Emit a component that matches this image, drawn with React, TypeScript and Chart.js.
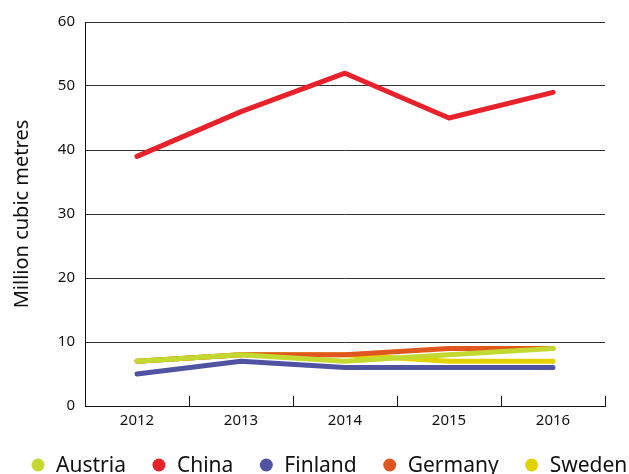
import React, { useEffect, useRef } from "react";
import { Chart, registerables } from "chart.js";
Chart.register(...registerables);

const years = ["2012", "2013", "2014", "2015", "2016"];
const austria = [7, 8, 7, 8, 9];
const china = [39, 46, 52, 45, 49];
const finland = [5, 7, 6, 6, 6];
const germany = [7, 8, 8, 9, 9];
const sweden = [7, 8, 8, 7, 7];
const yTicks = [0, 10, 20, 30, 40, 50, 60];

const FONT = "'Noto Sans', 'Open Sans', sans-serif";

const upTicks = {
  id: "upTicks",
  afterDatasetsDraw(chart: any) {
    const x = chart.scales.x;
    const ctx = chart.ctx;
    const n = x.ticks.length;
    ctx.save();
    ctx.strokeStyle = "#111";
    ctx.lineWidth = 1;
    for (let i = 1; i <= n; i++) {
      const px = Math.round(x.left + (i * (x.right - x.left)) / n) + 0.5;
      ctx.beginPath();
      ctx.moveTo(px, x.top);
      ctx.lineTo(px, x.top - 10);
      ctx.stroke();
    }
    ctx.restore();
  },
};

const bottomLegend = {
  id: "bottomLegend",
  afterDraw(chart: any) {
    const ctx = chart.ctx;
    ctx.save();
    ctx.font = `21px ${FONT}`;
    ctx.textBaseline = "middle";
    ctx.textAlign = "left";
    const cy = 465;
    let cx = 38;
    chart.data.datasets.forEach((ds: any) => {
      ctx.fillStyle = ds.borderColor;
      ctx.beginPath();
      ctx.arc(cx, cy, 6.5, 0, Math.PI * 2);
      ctx.fill();
      ctx.fillStyle = "#111";
      const tx = cx + 18;
      ctx.fillText(ds.label, tx, cy + 1);
      const w = ctx.measureText(ds.label).width;
      cx = tx + w + 33;
    });
    ctx.restore();
  },
};

export default function App() {
  const ref = useRef<HTMLCanvasElement>(null);
  useEffect(() => {
    const mk = (label: string, data: number[], color: string) => ({
      label,
      data,
      borderColor: color,
      backgroundColor: color,
      borderWidth: 5,
      pointRadius: 0,
      borderCapStyle: "round" as const,
      borderJoinStyle: "round" as const,
      tension: 0,
    });
    const chart = new Chart(ref.current!, {
      type: "line",
      data: {
        labels: years,
        datasets: [
          mk("Austria", austria, "#c4d92f"),
          mk("China", china, "#e8222b"),
          mk("Finland", finland, "#5053a2"),
          mk("Germany", germany, "#e0561f"),
          mk("Sweden", sweden, "#e2d200"),
        ],
      },
      options: {
        animation: false,
        responsive: false,
        devicePixelRatio: 1,
        layout: { padding: { left: 0, right: 24, top: 22, bottom: 40 } },
        plugins: {
          tooltip: { enabled: false },
          legend: { display: false },
        },
        scales: {
          x: {
            offset: true,
            grid: { display: false, drawOnChartArea: false, drawTicks: false },
            border: { display: true, color: "#111", width: 1 },
            ticks: { color: "#111", font: { family: FONT, size: 15 }, padding: 6 },
            afterFit: (s: any) => {
              s.height = 28;
            },
          },
          y: {
            min: 0,
            max: 60,
            afterBuildTicks: (s: any) => {
              s.ticks = yTicks.map((v) => ({ value: v }));
            },
            grid: { color: "#333", lineWidth: 1, drawTicks: false },
            border: { display: true, color: "#111", width: 1 },
            ticks: { color: "#111", font: { family: FONT, size: 15 }, padding: 10 },
            title: {
              display: true,
              text: "Million cubic metres",
              color: "#111",
              font: { family: FONT, size: 20 },
              padding: { top: 10, bottom: 8 },
            },
            afterFit: (s: any) => {
              s.width = 85;
            },
          },
        },
      },
      plugins: [upTicks, bottomLegend],
    });
    return () => chart.destroy();
  }, []);
  return (
    <div style={{ position: "fixed", left: 0, top: 0, width: 629, height: 474, overflow: "hidden", background: "#fff" }}>
      <canvas ref={ref} width={629} height={474} style={{ display: "block" }} />
    </div>
  );
}
